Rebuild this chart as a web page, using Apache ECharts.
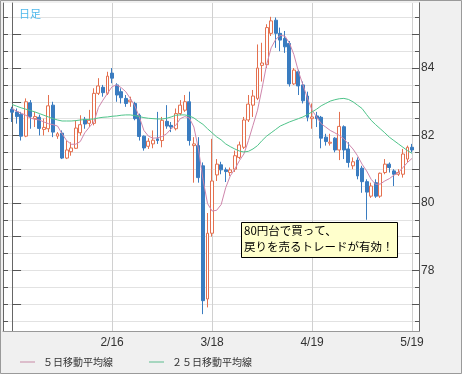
<!DOCTYPE html>
<html>
<head>
<meta charset="utf-8">
<script src="https://cdn.jsdelivr.net/npm/echarts@6/dist/echarts.min.js"></script>
<style>
html,body{margin:0;padding:0;background:#f0f0f0;}
#c{width:462px;height:374px;}
</style>
</head>
<body>
<div id="c"></div>
<script>
// trading days (index 0 = 1/17)
const dates = ['1/17','1/18','1/19','1/20','1/21','1/24','1/25','1/26','1/27','1/28','1/31',
'2/1','2/2','2/3','2/4','2/7','2/8','2/9','2/10','2/11','2/14','2/15','2/16','2/17','2/18',
'2/21','2/22','2/23','2/24','2/25','2/28','3/1','3/2','3/3','3/4','3/7','3/8','3/9','3/10','3/11',
'3/14','3/15','3/16','3/17','3/18','3/21','3/22','3/23','3/24','3/25','3/28','3/29','3/30','3/31',
'4/1','4/4','4/5','4/6','4/7','4/8','4/11','4/12','4/13','4/14','4/15','4/18','4/19','4/20','4/21',
'4/22','4/25','4/26','4/27','4/28','4/29','5/2','5/3','5/4','5/5','5/6','5/9','5/10','5/11','5/12',
'5/13','5/16','5/17','5/18','5/19'];

const open  = [82.78,82.70,82.63,81.98,82.97,82.50,82.54,82.18,82.20,82.90,81.98,82.07,81.33,81.52,81.62,82.08,82.48,82.36,82.36,83.25,
83.43,83.25,83.85,83.50,83.30,83.10,83.00,82.95,82.60,81.98,81.68,81.75,81.90,81.85,82.42,82.30,82.20,82.65,82.75,83.00,
81.70,81.70,81.10,77.15,79.10,80.83,81.13,80.98,80.90,81.00,81.35,81.65,82.46,82.90,83.10,84.08,84.10,85.03,85.42,85.03,
84.88,84.73,83.53,83.89,83.50,83.17,82.50,82.58,82.54,81.95,81.77,81.92,81.57,82.26,81.60,81.10,81.27,81.03,80.63,80.20,
80.60,80.20,80.90,81.15,80.95,80.85,80.85,81.30,81.65];
const close = [82.69,82.56,81.98,83.00,82.56,82.56,82.21,82.24,82.88,82.10,82.05,81.33,81.57,81.63,82.22,82.32,82.34,82.45,83.25,83.47,
83.27,83.76,83.70,83.20,83.12,82.95,83.05,82.50,81.97,81.63,81.83,81.86,81.85,82.45,82.28,82.25,82.65,82.90,83.00,81.85,
81.75,80.75,77.10,79.10,80.65,81.15,80.98,80.93,80.98,81.40,81.72,82.46,82.93,83.17,84.00,84.15,85.20,85.40,85.03,84.83,
84.63,83.53,83.94,83.47,83.03,82.54,82.55,82.50,81.92,81.82,81.80,81.57,82.27,81.57,81.20,81.22,80.80,80.63,80.32,80.50,
80.20,80.88,81.15,81.05,80.85,80.90,81.45,81.65,81.57];
const low   = [82.40,82.35,81.85,81.95,82.20,82.25,82.00,82.00,82.10,81.95,81.90,81.30,81.30,81.40,81.60,82.00,82.20,82.25,82.30,83.20,
83.15,83.20,83.55,83.00,82.95,82.85,82.85,82.45,81.85,81.55,81.60,81.62,81.75,81.65,82.20,82.10,82.15,82.60,82.70,81.70,
80.60,80.60,76.70,76.90,79.00,80.65,80.85,80.62,80.80,80.92,81.30,81.60,82.40,82.55,83.05,83.60,84.00,84.95,84.60,84.50,
84.45,83.45,83.50,83.20,82.95,82.42,82.20,82.25,81.62,81.70,81.70,81.50,81.27,81.30,81.05,81.00,80.70,80.30,79.50,80.15,
80.15,80.15,80.85,80.90,80.50,80.80,80.75,81.20,81.50];
const high  = [82.85,82.80,82.70,83.10,83.05,82.70,82.62,82.50,83.20,83.00,82.10,82.15,81.85,81.80,82.45,82.60,82.55,82.76,83.40,83.70,
83.50,83.89,84.00,83.55,83.40,83.20,83.15,83.00,82.65,82.00,81.92,82.15,82.70,82.55,82.90,82.40,82.80,83.05,83.20,83.30,
81.95,81.95,81.20,79.70,81.90,81.30,81.22,81.05,81.05,81.55,81.82,82.55,83.20,83.35,84.70,84.75,85.30,85.52,85.50,85.20,
85.10,84.80,84.00,83.95,83.60,83.30,82.95,82.70,82.58,82.05,82.05,81.95,82.70,82.30,81.80,81.35,81.35,81.10,80.70,80.60,
80.70,80.90,81.30,81.20,81.00,81.00,81.60,81.70,81.75];

const ma5  = [82.80,82.72,82.66,82.60,82.52,82.48,82.46,82.40,82.35,82.32,82.28,82.05,81.85,81.74,81.74,81.82,82.08,82.25,82.40,82.83,
83.05,83.25,83.45,83.50,83.42,83.30,83.10,82.88,82.55,82.15,81.98,81.92,81.93,81.97,82.05,82.20,82.30,82.50,82.56,82.52,
82.25,81.60,80.70,79.98,79.76,79.78,79.95,80.45,80.80,81.00,81.25,81.45,81.85,82.30,82.75,83.40,84.10,84.60,84.85,84.97,
84.95,84.75,84.40,83.90,83.50,83.10,82.75,82.55,82.35,82.25,82.15,82.08,82.00,81.90,81.75,81.60,81.40,81.15,80.95,80.70,
80.55,80.56,80.65,80.72,80.82,80.90,81.05,81.20,81.32];
const ma25 = [82.92,82.87,82.82,82.78,82.74,82.70,82.65,82.60,82.55,82.50,82.46,82.43,82.43,82.43,82.44,82.46,82.47,82.48,82.49,82.52,
82.54,82.55,82.57,82.58,82.60,82.61,82.61,82.59,82.56,82.53,82.51,82.50,82.49,82.49,82.51,82.55,82.60,82.61,82.61,82.58,
82.52,82.42,82.33,82.20,82.08,81.96,81.87,81.75,81.67,81.60,81.54,81.51,81.53,81.60,81.70,81.85,81.98,82.08,82.18,82.28,
82.34,82.40,82.45,82.50,82.55,82.62,82.70,82.78,82.88,82.95,83.02,83.06,83.09,83.10,83.07,83.00,82.90,82.80,82.62,82.45,
82.32,82.20,82.08,81.95,81.85,81.75,81.65,81.55,81.47];

const xTickIdx = [0,22,44,66,88];
const xLabelIdx = [22,44,66,88];
const yMajor = [77,78,79,80,81,82,83,84,85];
const yHalf = [76.5,77,77.5,78,78.5,79,79.5,80,80.5,81,81.5,82,82.5,83,83.5,84,84.5,85,85.5];
const yLabels = [78,80,82,84];
const legendNames = ['５日移動平均線','２５日移動平均線'];
const noteLines = ['80円台で買って、','戻りを売るトレードが有効！'];

const candles = dates.map((d,i)=>[i, open[i], close[i], low[i], high[i]]);
const ma5Data = ma5.map((v,i)=>[i,v]);
const ma25Data = ma25.map((v,i)=>[i,v]);

const YMIN = 76.2, YMAX = 85.93;
function yAx(pos, ticks, len, extra){
  return Object.assign({
    type:'value', position:pos, offset:0, min:YMIN, max:YMAX, scale:true,
    axisLine:{show:true, lineStyle:{color:'#666', width:1}},
    axisTick:{show:true, inside:true, length:len, customValues:ticks, lineStyle:{color:'#555'}},
    axisLabel:{show:false},
    splitLine:{show:false}
  }, extra||{});
}

const chart = echarts.init(document.getElementById('c'), null, {renderer:'canvas'});
chart.setOption({
  backgroundColor:'#f0f0f0',
  animation:false,
  textStyle:{fontFamily:'Liberation Sans'},
  title:{text:'日足', left:14, top:3, textStyle:{color:'#4fb8ec', fontSize:11, fontWeight:'normal', fontFamily:'Noto Sans CJK JP'}},
  legend:{
    data:legendNames, left:15, top:352, icon:'rect', itemWidth:15, itemHeight:1, itemGap:36,
    textStyle:{fontSize:10, color:'#333', fontFamily:'Noto Sans CJK JP', padding:[0,0,0,3]}
  },
  grid:{left:3, right:43, top:3, bottom:43, show:true, backgroundColor:'#fff', borderWidth:0},
  xAxis:{
    type:'value', min:-2, max:89.53,
    axisLine:{show:true, onZero:false, lineStyle:{color:'#999'}},
    axisTick:{show:false, customValues:xTickIdx},
    axisLabel:{customValues:xLabelIdx, formatter:v=>dates[Math.round(v)], margin:6, fontSize:12, color:'#333'},
    splitLine:{show:true, lineStyle:{color:'#d0d0d0', width:1}}
  },
  yAxis:[
    yAx('left', yMajor, 9),
    yAx('left', yHalf, 5, {splitLine:{show:true, lineStyle:{color:'#e2e2e2', width:1}}}),
    yAx('right', yMajor, 7, {axisLabel:{show:true, customValues:yLabels, margin:2, fontSize:12, color:'#333'}}),
    yAx('right', yHalf, 4)
  ],
  series:[
    {type:'candlestick', name:'rate', data:candles, encode:{x:0, y:[1,2,3,4]}, barWidth:3.4,
      itemStyle:{color:'#ffffff', color0:'#3a7cc0', borderColor:'#e4704f', borderColor0:'#3a7cc0', borderWidth:1}},
    {type:'line', name:legendNames[0], data:ma5Data, symbol:'none', smooth:false,
      lineStyle:{color:'#cf86ac', width:1}, itemStyle:{color:'#c88aa6'}, z:3},
    {type:'line', name:legendNames[1], data:ma25Data, symbol:'none', smooth:false,
      lineStyle:{color:'#4fc48a', width:1}, itemStyle:{color:'#5cbc8e'}, z:3}
  ],
  graphic:[
    {type:'rect', shape:{x:0.5, y:0.5, width:461, height:373}, style:{fill:'none', stroke:'#9a9a9a', lineWidth:1}, z:100},
    {type:'rect', shape:{x:241.5, y:222.5, width:156, height:35}, style:{fill:'#ffffcc', stroke:'#000', lineWidth:1}, z:100},
    {type:'text', x:244, y:225, style:{text:noteLines[0], font:'11.5px "Noto Sans CJK JP"', fill:'#000'}, z:101},
    {type:'text', x:244, y:241, style:{text:noteLines[1], font:'11.5px "Noto Sans CJK JP"', fill:'#000'}, z:101}
  ]
});
</script>
</body>
</html>
